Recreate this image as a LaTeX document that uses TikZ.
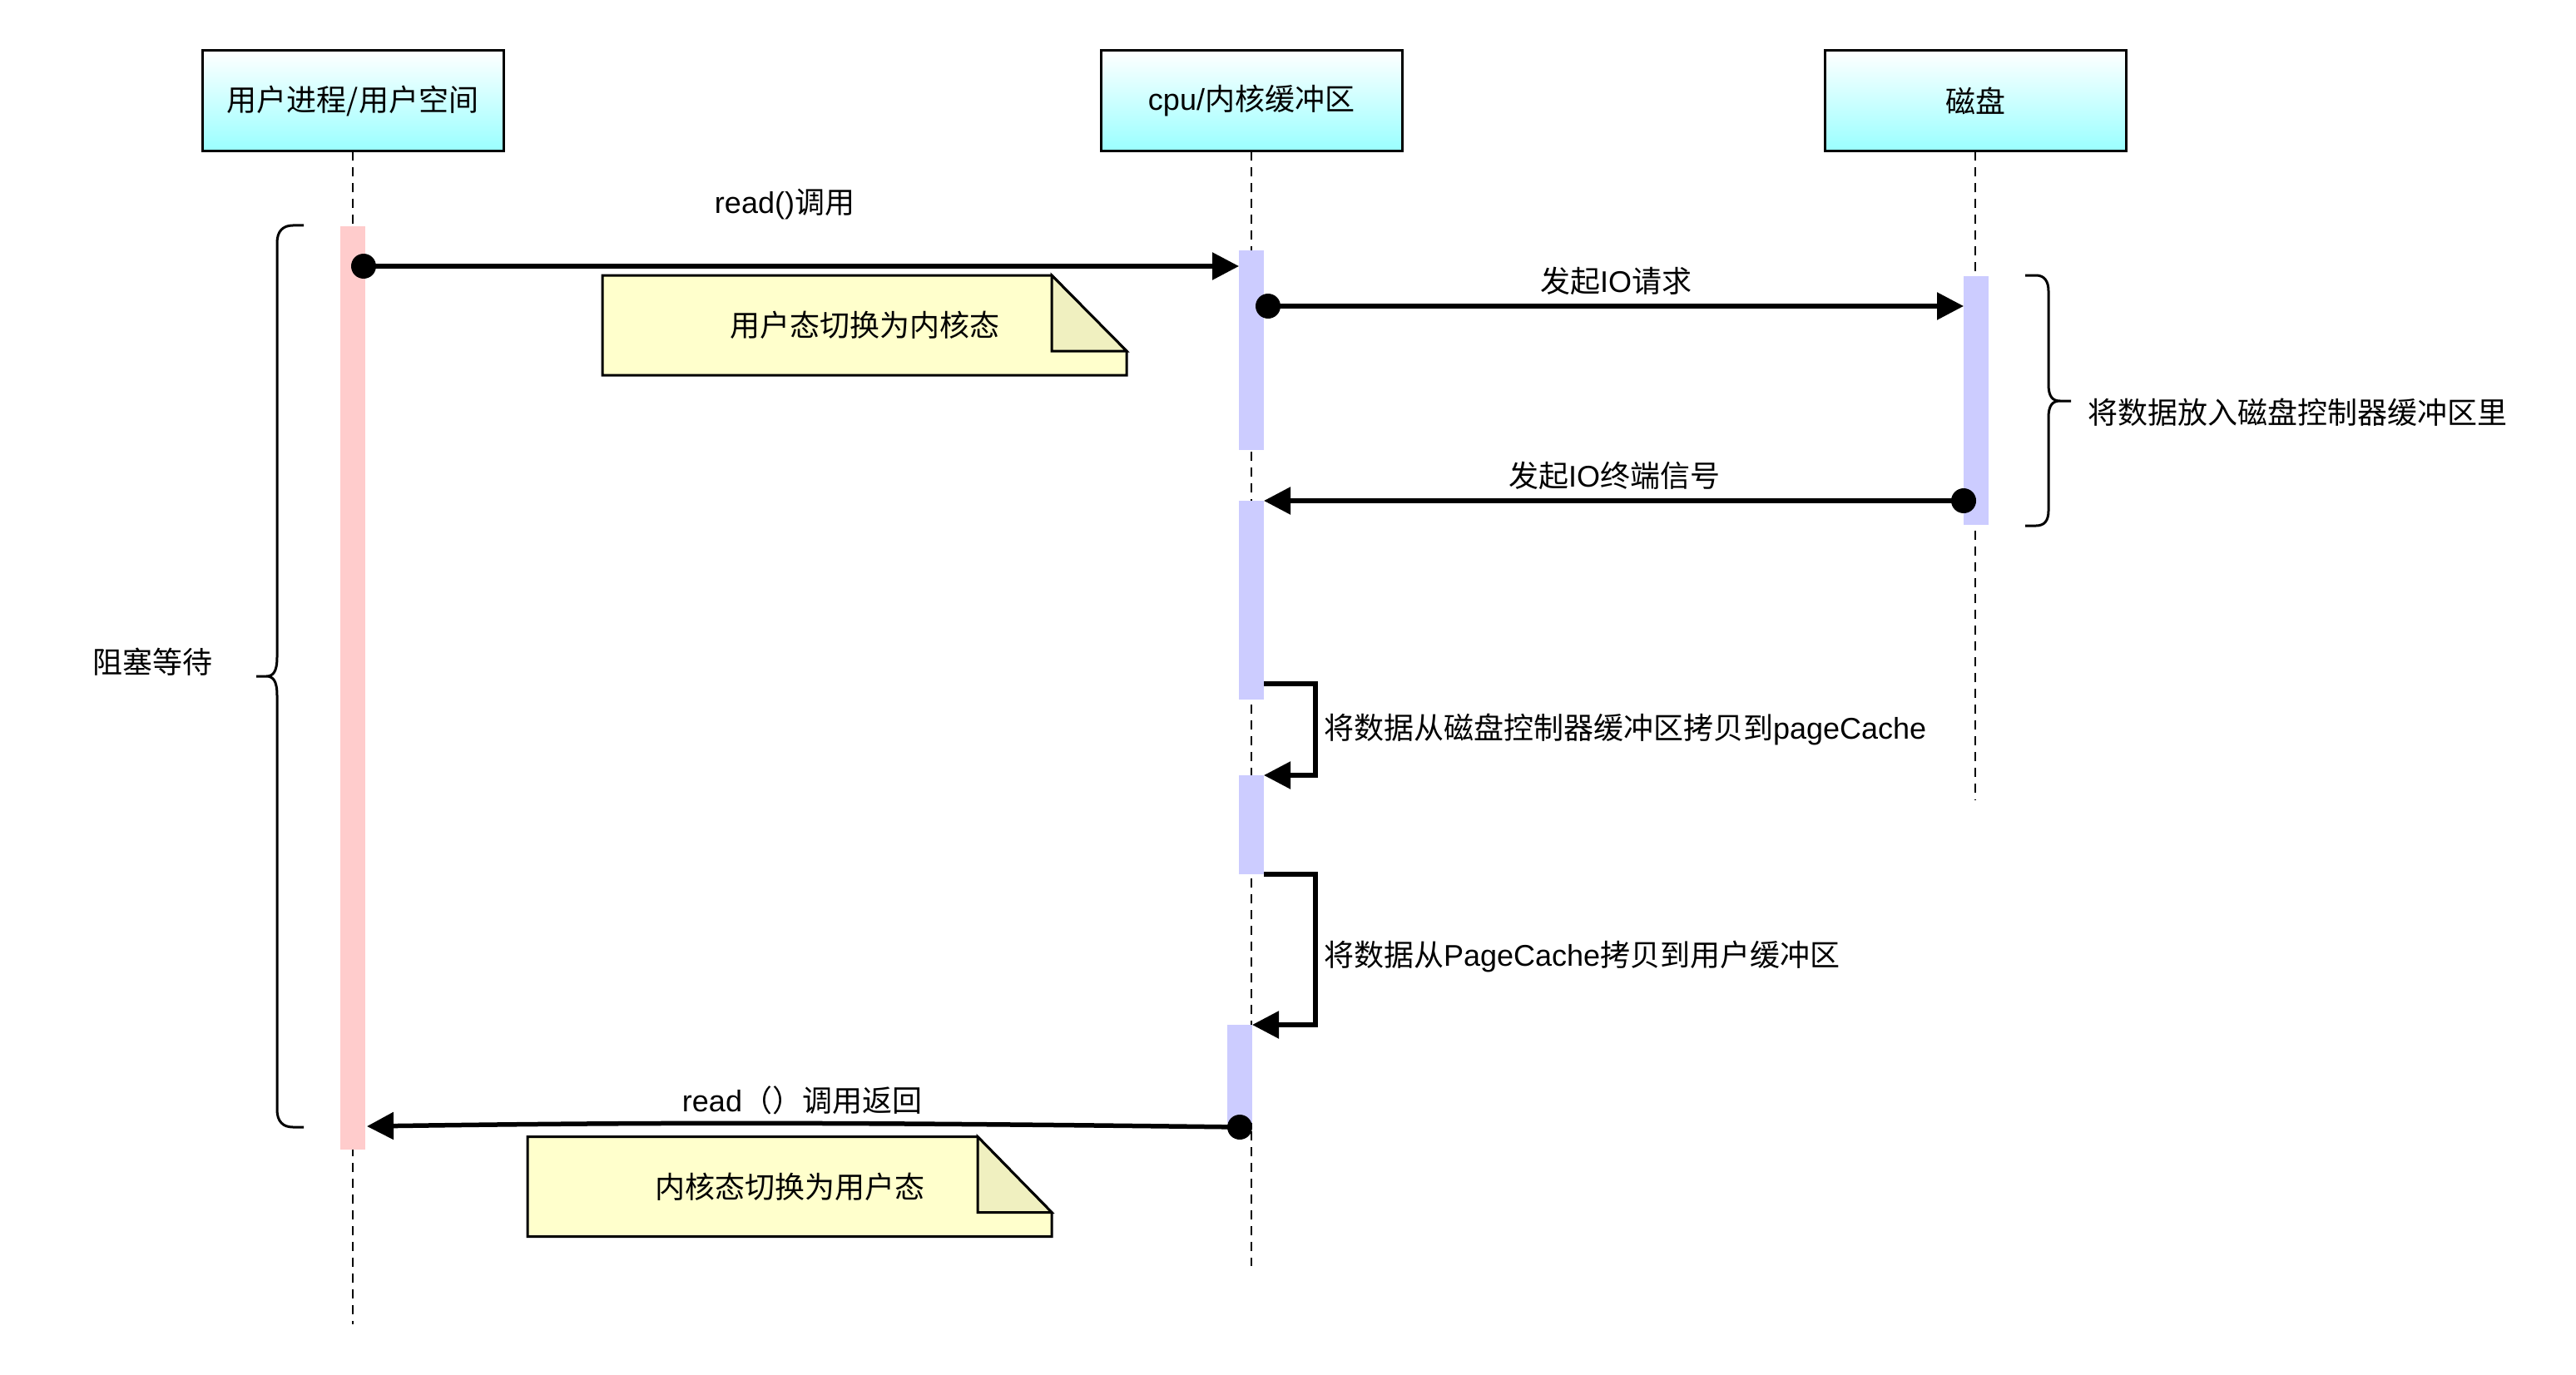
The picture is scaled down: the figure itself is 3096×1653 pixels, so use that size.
\documentclass[tikz,border=0pt]{standalone}
\usepackage{fontspec}
\setmainfont{Noto Sans CJK SC}
\newfontfamily\lat{Liberation Sans}
\usetikzlibrary{arrows.meta,calc}
\definecolor{hdrcyan}{RGB}{153,255,255}
\definecolor{actred}{RGB}{255,204,204}
\definecolor{actblue}{RGB}{204,204,255}
\definecolor{notefill}{RGB}{255,255,204}
\definecolor{notefold}{RGB}{240,240,192}
\begin{document}
\begin{tikzpicture}[x=1pt,y=-1pt,
  txt/.style={font=\fontsize{36pt}{43pt}\selectfont, inner sep=0pt, outer sep=0pt},
  hdr/.style={txt, draw=black, line width=3pt, top color=white, bottom color=hdrcyan, minimum width=362pt, minimum height=121pt},
  lifeline/.style={line width=2.5pt, dash pattern=on 11pt off 8pt},
  actR/.style={fill=actred, draw=none, minimum width=30pt, inner sep=0pt, outer sep=0pt},
  actB/.style={fill=actblue, draw=none, minimum width=30pt, inner sep=0pt, outer sep=0pt},
  msg/.style={line width=5.5pt, line join=miter, -{Triangle[length=32pt,width=32pt]}},
  dotc/.style={circle, fill=black, minimum size=30pt, inner sep=0pt, outer sep=0pt},
  notebox/.style={txt, minimum width=630pt, minimum height=120pt},
  notebody/.style={fill=notefill, draw=black, line width=3pt, line join=miter},
  notefoldst/.style={fill=notefold, draw=black, line width=3pt, line join=miter},
  bracest/.style={line width=3pt}
]
\useasboundingbox (0,0) rectangle (3096,1653);
\fill[white] (0,0) rectangle (3096,1653);

% headers
\node[hdr] (user) at (424,121.5) {用户进程/用户空间};
\node[hdr] (cpu) at (1504,121.5) {{\lat cpu/}内核缓冲区};
\node[hdr] (disk) at (2374,121.5) {磁盘};

% lifeline ends
\coordinate (userEnd) at (424,1592);
\coordinate (cpuEnd) at (1504,1522);
\coordinate (diskEnd) at (2374,962);
\draw[lifeline] (user.south) -- (userEnd);
\draw[lifeline] (cpu.south) -- (cpuEnd);
\draw[lifeline] (disk.south) -- (diskEnd);

% activation bars
\node[actR, minimum height=1110pt] (uact) at (424,827) {};
\node[actB, minimum height=240pt] (k1) at (1504,421) {};
\node[actB, minimum height=239pt] (k2) at (1504,721.5) {};
\node[actB, minimum height=119pt] (k3) at (1504,991.5) {};
\node[actB, minimum height=118pt] (k4) at (1490,1291) {};
\node[actB, minimum height=299pt] (dact) at (2375,481.5) {};

% braces
\draw[bracest] (365,271) -- (352,271) .. controls (340,271) and (333,278) .. (333,292)
  -- (333,790) .. controls (333,808) and (328,813) .. (320,813) -- (308,813)
  -- (320,813) .. controls (328,813) and (333,818) .. (333,836)
  -- (333,1334) .. controls (333,1348) and (340,1355) .. (352,1355) -- (365,1355);
\draw[bracest] (2434,331) -- (2447,331) .. controls (2457,331) and (2462,338) .. (2462,350)
  -- (2462,462) .. controls (2462,477) and (2467,482) .. (2476,482) -- (2489,482)
  -- (2476,482) .. controls (2467,482) and (2462,487) .. (2462,502)
  -- (2462,614) .. controls (2462,626) and (2457,632) .. (2447,632) -- (2434,632);
\node[txt] (wait) at (183,796) {阻塞等待};
\node[txt, anchor=west] (diskbuf) at (2509,496) {将数据放入磁盘控制器缓冲区里};

% message 1
\node[dotc] (d1) at (437,320) {};
\draw[msg] (d1.center) -- (k1.west |- d1.center);
\node[txt] (l1) at (943,246) {{\lat read()}调用};

% message 2
\node[dotc] (d2) at (1524,368) {};
\draw[msg] (d2.center) -- (dact.west |- d2.center);
\node[txt] (l2) at (1942,338) {发起{\lat IO}请求};

% message 3
\node[dotc] (d3) at (2360,602) {};
\draw[msg] (d3.center) -- (k2.east |- d3.center);
\node[txt] (l3) at (1940,572) {发起{\lat IO}终端信号};

% self message 1
\coordinate (s1a) at (1519,822);
\coordinate (s1b) at (1581,822);
\coordinate (s1c) at (1581,932);
\draw[msg] (s1a) -- (s1b) -- (s1c) -- (k3.north east);
\node[txt, anchor=west] (l4) at (1591,877) {将数据从磁盘控制器缓冲区拷贝到{\lat pageCache}};

% self message 2
\coordinate (s2b) at (1581,1051);
\coordinate (s2c) at (1581,1232);
\draw[msg] (k3.south east) -- (s2b) -- (s2c) -- (k4.north east);
\node[txt, anchor=west] (l5) at (1591,1150) {将数据从{\lat PageCache}拷贝到用户缓冲区};

% return message
\node[dotc] (d6) at (1490,1355) {};
\coordinate (rt) at (441,1354);
\draw[msg] (d6.center) .. controls (1000,1349) and (800,1349) .. (rt);
\node[txt] (l6) at (964,1323) {{\lat read}（）调用返回};

% note 1
\node[notebox] (n1) at (1039,391) {};
\draw[notebody] (n1.north west) -- ($(n1.north east)+(-90,0)$) -- ($(n1.north east)+(0,91)$) -- (n1.south east) -- (n1.south west) -- cycle;
\draw[notefoldst] ($(n1.north east)+(-90,0)$) -- ($(n1.north east)+(-90,91)$) -- ($(n1.north east)+(0,91)$) -- cycle;
\node[txt] (n1t) at (n1.center) {用户态切换为内核态};

% note 2
\node[notebox] (n2) at (949,1426.5) {};
\draw[notebody] (n2.north west) -- ($(n2.north east)+(-89,0)$) -- ($(n2.north east)+(0,91)$) -- (n2.south east) -- (n2.south west) -- cycle;
\draw[notefoldst] ($(n2.north east)+(-89,0)$) -- ($(n2.north east)+(-89,91)$) -- ($(n2.north east)+(0,91)$) -- cycle;
\node[txt] (n2t) at (n2.center) {内核态切换为用户态};
\end{tikzpicture}
\end{document}
